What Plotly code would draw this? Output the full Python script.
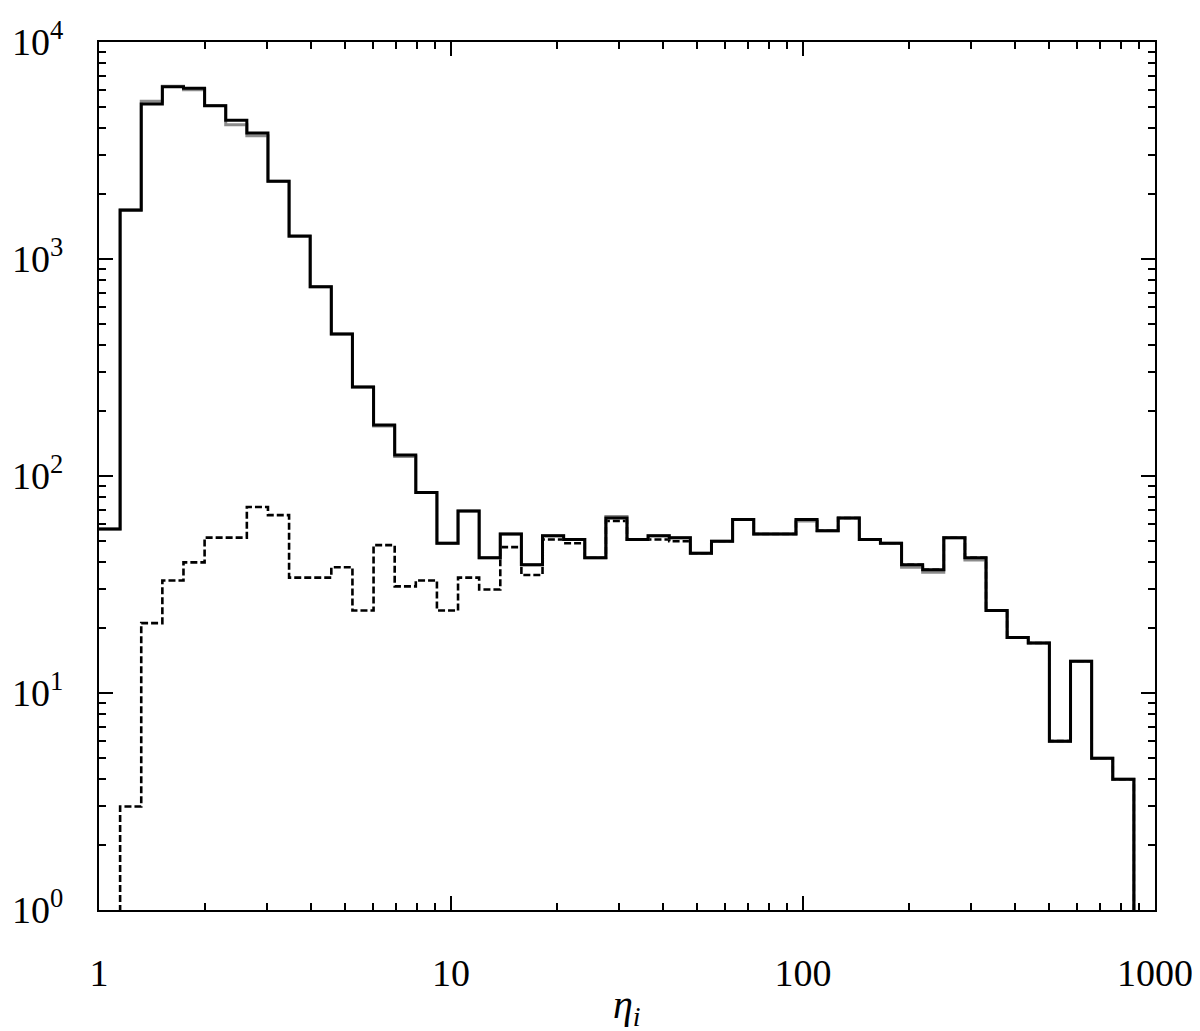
import numpy as np
import plotly.graph_objects as go

# 50 logarithmic bins between 1 and 1000
bin_edges = np.logspace(0, 3, 51)

# counts per bin
total_counts = [57, 1676, 5180, 6220, 6120, 5090, 4360, 3810, 2280, 1276,
                744, 451, 257, 172, 125, 84, 49, 69, 42, 54,
                39, 53, 51, 42, 64, 51, 53, 52, 44, 50,
                63, 54, 54, 63, 56, 64, 51, 49, 39, 37,
                52, 42, 24, 18, 17, 6, 14, 5, 4, 0]

grey_counts = [57, 1690, 5330, 6250, 6030, 5100, 4160, 3700, 2280, 1270,
               744, 451, 257, 170, 123, 84, 49, 69, 42, 54,
               39, 53, 51, 42, 65, 51, 53, 52, 44, 50,
               63, 54, 54, 62, 56, 64, 51, 49, 38, 36,
               52, 41, 24, 18, 17, 6, 14, 5, 4, 0]

subset_counts = [0, 3, 21, 33, 40, 52, 52, 72, 66, 34,
                 34, 38, 24, 48, 31, 33, 24, 34, 30, 47,
                 35, 51, 49, 42, 62, 51, 51, 50, 44, 50,
                 63, 54, 54, 63, 56, 64, 51, 49, 39, 37,
                 52, 42, 24, 18, 17, 6, 14, 5, 4, 0]

x_tick_vals = [1, 10, 100, 1000]
x_tick_text = ["1", "10", "100", "1000"]
y_tick_vals = [1, 10, 100, 1000, 10000]
y_tick_text = ["10<sup>0</sup>", "10<sup>1</sup>", "10<sup>2</sup>",
               "10<sup>3</sup>", "10<sup>4</sup>"]


def steps(counts):
    c = np.asarray(counts, dtype=float)
    c = np.where(c > 0, c, 1e-3)  # empty bins fall below the axis
    return list(bin_edges), list(np.append(c, c[-1]))


fig = go.Figure()

xs, ys = steps(subset_counts)
fig.add_trace(go.Scatter(x=xs, y=ys, mode="lines", line_shape="hv",
                         line=dict(color="black", width=2.6, dash="7px,3px"),
                         showlegend=False))
xs, ys = steps(grey_counts)
fig.add_trace(go.Scatter(x=xs, y=ys, mode="lines", line_shape="hv",
                         line=dict(color="#8c8c8c", width=3),
                         showlegend=False))
xs, ys = steps(total_counts)
fig.add_trace(go.Scatter(x=xs, y=ys, mode="lines", line_shape="hv",
                         line=dict(color="black", width=3),
                         showlegend=False))

font = dict(family="Liberation Serif", size=38, color="black")

fig.update_layout(
    width=1200, height=1031,
    margin=dict(l=91, r=53, t=34, b=129),
    plot_bgcolor="white", paper_bgcolor="white",
    font=font,
    xaxis=dict(type="log", range=[0, 3], showgrid=False, zeroline=False,
               automargin=False,
               showline=True, linecolor="black", linewidth=2, mirror="allticks",
               ticks="inside", ticklen=14, tickwidth=1.5, tickcolor="black",
               tickvals=x_tick_vals, ticktext=x_tick_text, tickfont=font,
               ticklabelstandoff=28,
               minor=dict(ticks="inside", ticklen=7, tickwidth=1.5, tickcolor="black",
                          dtick="D1", showgrid=False)),
    yaxis=dict(type="log", range=[0, 4], showgrid=False, zeroline=False,
               automargin=False,
               showline=True, linecolor="black", linewidth=2, mirror="allticks",
               ticks="inside", ticklen=14, tickwidth=1.5, tickcolor="black",
               tickvals=y_tick_vals, ticktext=y_tick_text, tickfont=font,
               ticklabelstandoff=26,
               minor=dict(ticks="inside", ticklen=7, tickwidth=1.5, tickcolor="black",
                          dtick="D1", showgrid=False)),
    annotations=[dict(text="<i>η<sub>i</sub></i>", x=0.5, y=-0.143,
                      xref="paper", yref="paper", showarrow=False,
                      xanchor="center", yanchor="bottom",
                      font=dict(family="Liberation Serif", size=40, color="black"))],
)

fig.write_html("out.html")
